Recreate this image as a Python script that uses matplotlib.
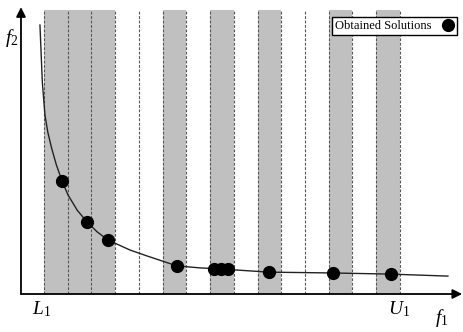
import matplotlib
matplotlib.use('Agg')
import matplotlib.pyplot as plt
from matplotlib.lines import Line2D

plt.rcParams['mathtext.fontset'] = 'custom'
plt.rcParams['mathtext.rm'] = 'Liberation Serif'
plt.rcParams['mathtext.it'] = 'Liberation Serif:italic'
plt.rcParams['font.family'] = 'Liberation Serif'

# f1 measured in bin widths (L1 = 0, U1 = 15), f2 in arbitrary units
n_bins = 15
shaded_bins = [0, 1, 2, 5, 7, 9, 12, 14]
f2_top = 10.0

front_f1 = [-0.17, -0.13, -0.07, 0.04, 0.16, 0.32, 0.52, 0.76, 1.01, 1.40, 1.81,
            2.25, 2.70, 3.62, 4.34, 5.60, 6.57, 7.46, 9.48, 12.18, 14.62, 17.02]
front_f2 = [9.47, 8.66, 7.46, 6.30, 5.70, 5.14, 4.55, 3.98, 3.49, 2.95, 2.54,
            2.18, 1.90, 1.55, 1.34, 0.99, 0.92, 0.88, 0.77, 0.74, 0.70, 0.63]

sol_f1 = [0.76, 1.81, 2.70, 5.60, 7.16, 7.46, 7.75, 9.48, 12.18, 14.62]
sol_f2 = [3.98, 2.54, 1.90, 0.99, 0.88, 0.88, 0.88, 0.77, 0.74, 0.70]

fig = plt.figure(figsize=(4.63, 3.32), dpi=100)
ax = fig.add_axes([0, 0, 1, 1])
ax.set_xlim(-1.854, 17.657)
ax.set_ylim(-1.338, 10.352)
ax.axis('off')

for b in shaded_bins:
    ax.fill_between([b, b + 1], 0, f2_top, color='#c0c0c0', lw=0, zorder=1)
for b in range(n_bins + 1):
    ax.plot([b, b], [0, f2_top], color='#555555', lw=0.8, ls=(0, (2.5, 1.5)), zorder=2)

ax.plot(front_f1, front_f2, color='#222222', lw=1.0, zorder=3)
ax.plot(sol_f1, sol_f2, 'o', color='black', ms=8.5, zorder=4)

# axes with arrows
ax.annotate('', xy=(17.62, 0), xytext=(-0.97, 0),
            arrowprops=dict(arrowstyle='-|>', color='black', lw=1.3,
                            mutation_scale=14, shrinkA=0, shrinkB=0), zorder=5)
ax.annotate('', xy=(-0.97, 10.1), xytext=(-0.97, 0),
            arrowprops=dict(arrowstyle='-|>', color='black', lw=1.3,
                            mutation_scale=14, shrinkA=0, shrinkB=0), zorder=5)

ax.text(-0.1, -0.55, r'$L_1$', fontsize=14, ha='center', va='center')
ax.text(14.95, -0.55, r'$U_1$', fontsize=14, ha='center', va='center')
ax.text(16.75, -0.85, r'$f_1$', fontsize=14, ha='center', va='center')
ax.text(-1.35, 9.0, r'$f_2$', fontsize=14, ha='center', va='center')

handle = Line2D([], [], ls='none', marker='o', color='black', ms=8.5)
leg = ax.legend([handle], ['Obtained Solutions'], loc='upper right',
                bbox_to_anchor=(0.987, 0.949), markerfirst=False, fontsize=9,
                frameon=True, fancybox=False, framealpha=1, borderpad=0.25,
                handletextpad=0.8, handlelength=1.0, borderaxespad=0)
leg.get_frame().set_edgecolor('black')
leg.get_frame().set_facecolor('white')
leg.get_frame().set_linewidth(1.0)
leg.set_zorder(6)

fig.savefig('out.png', dpi=100)
